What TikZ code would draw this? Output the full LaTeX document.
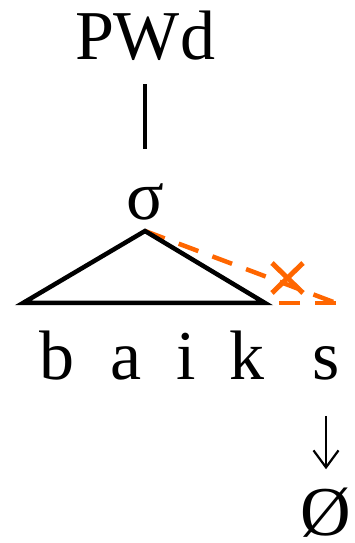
\documentclass[tikz,border=0pt]{standalone}
\usepackage{fontspec}
\setmainfont{Liberation Serif}
\newfontfamily\timesfont{Liberation Serif}
\usetikzlibrary{arrows.meta}
\definecolor{xorange}{RGB}{255,102,0}
\begin{document}
\begin{tikzpicture}[x=1pt,y=1pt,
  lab/.style={inner sep=0pt, anchor=base, font=\timesfont\fontsize{70}{84}\selectfont},
  tri/.style={line width=4.5pt, line join=miter},
  dashline/.style={xorange, line width=4.5pt, dash pattern=on 21pt off 15pt},
  crossline/.style={xorange, line width=5pt},
  stem/.style={line width=4.5pt},
  arr/.style={line width=2.2pt, -{Straight Barb[length=17pt,width=25pt]}}
]
\useasboundingbox (0,0) rectangle (354,543);
\node[lab] (pwd) at (145,483) {PWd};
\node[lab] (sigma) at (145,323) {σ};
\node[lab] (b) at (57,163) {b};
\node[lab] (a) at (126,163) {a};
\node[lab] (i) at (186,163) {i};
\node[lab] (k) at (247,163) {k};
\node[lab] (s) at (326,163) {s};
\node[lab] (null) at (326,8) {Ø};
\coordinate (apex) at (145,312);
\coordinate (L) at (23,240);
\coordinate (R) at (265,240);
\coordinate (S) at (336,240);
\coordinate (X) at (287.5,265);
\draw[stem] ([yshift=-23pt]pwd.south) -- ([yshift=35pt]sigma.north);
\draw[dashline] (apex) -- (S);
\draw[dashline] (S) -- (R);
\draw[crossline] ([shift={(-15.5,15)}]X) -- ([shift={(15.5,-15)}]X);
\draw[crossline] ([shift={(15.5,15)}]X) -- ([shift={(-15.5,-15)}]X);
\draw[tri] (L) -- (apex) -- (R) -- cycle;
\draw[arr, shorten <=35pt, shorten >=18pt] (s) -- (null);
\end{tikzpicture}
\end{document}
